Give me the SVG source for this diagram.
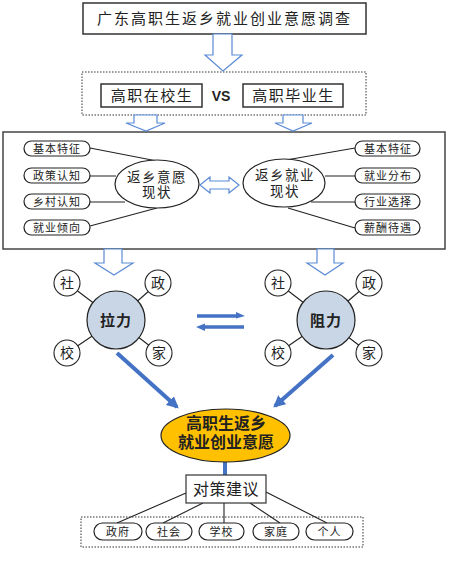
<svg xmlns="http://www.w3.org/2000/svg" width="449" height="563" viewBox="0 0 449 563">
<style>
text{font-family:"Liberation Serif","Noto Sans CJK SC",serif;fill:#222;text-anchor:middle}
.box{fill:#fff;stroke:#333;stroke-width:1.5}
.dot{fill:none;stroke:#333;stroke-width:1;stroke-dasharray:1.5 1.5}
.hol{fill:#fff;stroke:#5b8bd6;stroke-width:1.2}
.pill{fill:#fff;stroke:#222;stroke-width:1.2}
.ln{stroke:#222;stroke-width:1.1;fill:none}
.el{fill:#fff;stroke:#222;stroke-width:1.2}
.big{fill:#c9d6e6;stroke:#222;stroke-width:1.2}
.sm{fill:#fff;stroke:#222;stroke-width:1.1}
.blue{stroke:#4472c4;stroke-width:4;fill:none}
.bh{fill:#4472c4}
.t11{font-size:11px;letter-spacing:1px}
.t14{font-size:14px}
.b{font-weight:bold}
</style>
<defs>
<marker id="ah" viewBox="0 0 10 10" refX="8" refY="5" markerWidth="3" markerHeight="3" orient="auto" markerUnits="strokeWidth">
<path d="M0,0 L10,5 L0,10 Z" fill="#4472c4"/>
</marker>
</defs>

<g id="title">
<rect class="box" x="83" y="3" width="283" height="31"/>
<text x="224.5" y="24" style="font-size:15px;letter-spacing:2px">广东高职生返乡就业创业意愿调查</text>
</g>

<g id="compare">
<rect class="dot" x="82" y="72" width="284" height="43"/>
<rect class="box" x="101" y="84" width="101" height="23"/>
<text x="152" y="101" style="font-size:15px;letter-spacing:1.5px">高职在校生</text>
<text x="221" y="100.5" style="font-family:'Liberation Sans',sans-serif;font-size:14px;font-weight:bold">VS</text>
<rect class="box" x="243" y="84" width="100" height="23"/>
<text x="293.5" y="101" style="font-size:15px;letter-spacing:1.5px">高职毕业生</text>
</g>

<g id="status">
<rect x="3" y="132" width="442" height="117" fill="#fff" stroke="#444" stroke-width="1.5"/>
</g>

<g id="connectors">
<polygon class="hol" points="213,34 232,34 232,55 242,55 223,71 205,55 213,55"/>
<polygon class="hol" points="134,115 157,115 157,123 165,123 146,131 126,123 134,123"/>
<polygon class="hol" points="283,115 303,115 303,123 312,123 293,131 275,123 283,123"/>
<polygon class="hol" points="200,185 210,177 210,181 229,181 229,177 239,185 229,193 229,189 210,189 210,193"/>
<polygon class="hol" points="104,249 122,249 122,263 133,263 114,275 95,263 104,263"/>
<polygon class="hol" points="317,249 334,249 334,263 343,263 325,275 307,263 317,263"/>
<path class="ln" d="M90,148 L157,161 M90,176 L116,176 M90,202 L125,202 M90,226 L157,208"/>
<path class="ln" d="M355,148 L286,160 M355,176 L325,176 M355,202 L311,202 M355,228 L288,208"/>
<path class="ln" d="M67,283 L116,320 M158,283 L116,320 M67,353 L116,320 M159,353 L116,320"/>
<path class="ln" d="M278,283 L326,320 M369,283 L326,320 M278,353 L326,320 M369,353 L326,320"/>
<path d="M197,316 H238" stroke="#4472c4" stroke-width="3.5"/>
<polygon class="bh" points="236,312 245,316 236,318.5"/>
<path d="M203,327 H244" stroke="#4472c4" stroke-width="3.5"/>
<polygon class="bh" points="205,323.5 196,327 205,331"/>
<path class="blue" d="M117,353 L177,407" marker-end="url(#ah)"/>
<path class="blue" d="M333,355 L275,406" marker-end="url(#ah)"/>
<path class="blue" d="M225,475 L225,462"/>
<path class="ln" d="M186,493 L117,523 M203,503 L163,523 M224,503 L224,523 M250,503 L280,523 M266,492 L327,523"/>
</g>

<g id="left-items">
<rect class="pill" x="24" y="141" width="66" height="15" rx="7.5"/>
<text class="t11" x="57" y="152.5">基本特征</text>
<rect class="pill" x="24" y="168" width="66" height="15" rx="7.5"/>
<text class="t11" x="57" y="179.5">政策认知</text>
<rect class="pill" x="24" y="194" width="66" height="15" rx="7.5"/>
<text class="t11" x="57" y="205.5">乡村认知</text>
<rect class="pill" x="24" y="220" width="66" height="15" rx="7.5"/>
<text class="t11" x="57" y="231.5">就业倾向</text>
</g>

<g id="will-status">
<ellipse class="el" cx="157" cy="184" rx="42" ry="24"/>
<text x="157" y="182" style="font-size:13.5px;letter-spacing:1.5px">返乡意愿</text>
<text x="157" y="197" style="font-size:13.5px;letter-spacing:1.5px">现状</text>
</g>

<g id="job-status">
<ellipse class="el" cx="284" cy="183" rx="41" ry="24"/>
<text x="285" y="180" style="font-size:13.5px;letter-spacing:1.5px">返乡就业</text>
<text x="285" y="196" style="font-size:13.5px;letter-spacing:1.5px">现状</text>
</g>

<g id="right-items">
<rect class="pill" x="355" y="141" width="65" height="15" rx="7.5"/>
<text class="t11" x="388" y="152.5">基本特征</text>
<rect class="pill" x="355" y="168" width="65" height="15" rx="7.5"/>
<text class="t11" x="388" y="179.5">就业分布</text>
<rect class="pill" x="355" y="194" width="65" height="15" rx="7.5"/>
<text class="t11" x="388" y="205.5">行业选择</text>
<rect class="pill" x="355" y="220" width="65" height="15" rx="7.5"/>
<text class="t11" x="388" y="231.5">薪酬待遇</text>
</g>

<g id="pull">
<circle class="big" cx="116" cy="320" r="29"/>
<text class="b" x="116" y="325.5" style="font-size:15px;letter-spacing:1px">拉力</text>
<circle class="sm" cx="67" cy="283" r="13"/><text class="t14" x="67" y="288">社</text>
<circle class="sm" cx="158" cy="283" r="13"/><text class="t14" x="158" y="288">政</text>
<circle class="sm" cx="67" cy="353" r="13"/><text class="t14" x="67" y="358">校</text>
<circle class="sm" cx="159" cy="353" r="13"/><text class="t14" x="159" y="358">家</text>
</g>

<g id="resist">
<circle class="big" cx="326" cy="320" r="29"/>
<text class="b" x="326" y="325.5" style="font-size:15px;letter-spacing:1px">阻力</text>
<circle class="sm" cx="278" cy="283" r="13"/><text class="t14" x="278" y="288">社</text>
<circle class="sm" cx="369" cy="283" r="13"/><text class="t14" x="369" y="288">政</text>
<circle class="sm" cx="278" cy="353" r="13"/><text class="t14" x="278" y="358">校</text>
<circle class="sm" cx="369" cy="353" r="13"/><text class="t14" x="369" y="358">家</text>
</g>

<g id="intention">
<ellipse cx="225.5" cy="435.5" rx="64.5" ry="26.5" fill="#ffc000" stroke="#222" stroke-width="1.2"/>
<text class="b" x="226" y="428.5" style="font-size:16px">高职生返乡</text>
<text class="b" x="226" y="447.5" style="font-size:16px">就业创业意愿</text>
</g>

<g id="advice">
<rect class="box" x="186" y="475" width="80" height="28" style="stroke-width:1.2"/>
<text x="226" y="495" style="font-size:16px;letter-spacing:0.5px">对策建议</text>
</g>

<g id="actors">
<rect class="dot" x="81" y="517" width="282" height="30"/>
<rect class="pill" x="94" y="523" width="48" height="17" rx="8.5"/>
<text class="t11" x="118" y="535.5">政府</text>
<rect class="pill" x="146" y="523" width="46" height="17" rx="8.5"/>
<text class="t11" x="169" y="535.5">社会</text>
<rect class="pill" x="199" y="523" width="45" height="17" rx="8.5"/>
<text class="t11" x="221.5" y="535.5">学校</text>
<rect class="pill" x="253" y="523" width="46" height="17" rx="8.5"/>
<text class="t11" x="276" y="535.5">家庭</text>
<rect class="pill" x="306" y="523" width="47" height="17" rx="8.5"/>
<text class="t11" x="329.5" y="535.5">个人</text>
</g>
</svg>
